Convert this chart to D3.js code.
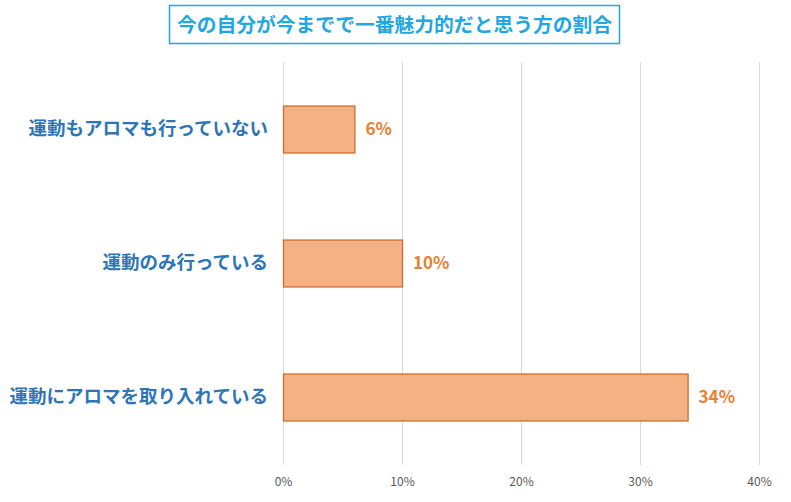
<!DOCTYPE html>
<html><head><meta charset="utf-8">
<script src="https://cdn.jsdelivr.net/npm/d3@7"></script>
<style>body{margin:0;background:#fff;}svg{display:block;}</style>
</head><body>
<svg id="c" width="791" height="502"></svg>
<script>
const categories = ["運動もアロマも行っていない", "運動のみ行っている", "運動にアロマを取り入れている"];
const values = [6, 10, 34];
const valueLabels = ["6%", "10%", "34%"];
const ticks = [0, 10, 20, 30, 40];
const tickLabels = ["0%", "10%", "20%", "30%", "40%"];
const title = "今の自分が今までで一番魅力的だと思う方の割合";

const svg = d3.select("#c");
const x = d3.scaleLinear().domain([0, 40]).range([283, 759]);
const y = d3.scaleBand().domain(categories).range([62, 464]).paddingInner(0.65).paddingOuter(0.325);
const font = "'Noto Sans CJK JP', 'Noto Sans', sans-serif";

// grid
svg.append("g").selectAll("line").data(ticks).join("line")
  .attr("x1", d => Math.round(x(d)) + 0.5).attr("x2", d => Math.round(x(d)) + 0.5)
  .attr("y1", 62).attr("y2", 465)
  .attr("stroke", "#d9d9d9").attr("stroke-width", 1);

// axis labels
const ax = d3.axisBottom(x).tickValues(ticks).tickFormat((d, i) => tickLabels[i]).tickSize(0).tickPadding(0);
const axg = svg.append("g").attr("transform", "translate(0,477)").call(ax);
axg.select(".domain").remove();
axg.selectAll("text").attr("fill", "#595959").attr("font-size", 12).attr("font-family", font).attr("dy", "0.71em");

// bars
svg.append("g").selectAll("rect").data(values).join("rect")
  .attr("x", x(0) + 0.5).attr("y", (d, i) => y(categories[i]) + 0.5)
  .attr("width", d => x(d) - x(0)).attr("height", y.bandwidth())
  .attr("fill", "#F4B183").attr("stroke", "#D26B2B").attr("stroke-width", 1.3);

// value labels
svg.append("g").selectAll("text").data(values).join("text")
  .attr("x", d => x(d) + 11).attr("y", (d, i) => y(categories[i]) + y.bandwidth() / 2)
  .attr("dy", "0.35em")
  .attr("fill", "#ED7D31").attr("font-size", 17).attr("font-weight", "bold").attr("font-family", font)
  .text((d, i) => valueLabels[i]);

// category labels
svg.append("g").selectAll("text").data(categories).join("text")
  .attr("x", 268).attr("y", d => y(d) + y.bandwidth() / 2)
  .attr("dy", "0.35em").attr("text-anchor", "end")
  .attr("fill", "#2E75B6").attr("font-size", 18.5).attr("font-weight", "bold").attr("font-family", font)
  .text(d => d);

// title
svg.append("rect").attr("x", 169.5).attr("y", 5.5).attr("width", 450).attr("height", 38)
  .attr("fill", "#fff").attr("stroke", "#1EA7E1").attr("stroke-width", 1.5);
svg.append("text").attr("x", 394.5).attr("y", 25).attr("dy", "0.35em").attr("text-anchor", "middle")
  .attr("fill", "#1EA7E1").attr("font-size", 19.8).attr("font-weight", "bold").attr("font-family", font)
  .text(title);
</script>
</body></html>
